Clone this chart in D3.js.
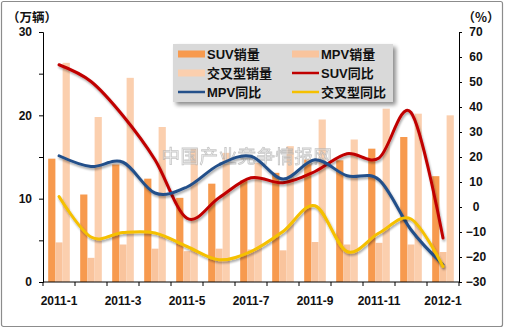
<!DOCTYPE html>
<html>
<head>
<meta charset="utf-8">
<script src="https://cdn.jsdelivr.net/npm/d3@7"></script>
<style>
  html, body { margin: 0; padding: 0; background: #fff; }
  svg { display: block; }
  text { font-family: "Liberation Sans", Arial, "Noto Sans CJK SC", sans-serif; font-weight: bold; fill: #111; }
</style>
</head>
<body>
<svg id="chart" width="505" height="329"></svg>
<script>
// Monthly sales (万辆) and year-on-year growth (%) by vehicle type
const months = ["2011-1","2011-2","2011-3","2011-4","2011-5","2011-6","2011-7",
                "2011-8","2011-9","2011-10","2011-11","2011-12","2012-1"];
const suvSales   = [14.8, 10.5, 14.1, 12.4, 10.1, 11.8, 12.2, 13.1, 14.7, 14.6, 16.0, 17.4, 12.7];
const mpvSales   = [4.75, 2.9, 4.5, 4.0, 3.7, 4.0, 3.9, 3.8, 4.8, 4.5, 4.7, 4.5, 3.6];
const crossSales = [26.3, 19.8, 24.5, 18.6, 16.0, 15.5, 14.3, 16.3, 19.5, 17.1, 20.8, 20.2, 20.0];
const suvYoY   = [56.9, 50.2, 36.5, 18.9, -4.5, 3.7, 11.7, 9.7, 14.2, 21.3, 19.6, 37.8, -12.4];
const mpvYoY   = [20.5, 16.2, 17.9, 5.6, 8.0, 16.9, 20.3, 11.2, 18.9, 12.5, 10.9, -9.1, -23.1];
const crossYoY = [4.2, -12.0, -10.2, -10.4, -15.8, -21.1, -17.8, -9.8, 0.5, -17.8, -10.4, -4.8, -23.8];
const leftTicks  = [0, 10, 20, 30];
const rightTicks = [-30, -20, -10, 0, 10, 20, 30, 40, 50, 60, 70];
const xLabelMonths = ["2011-1","2011-3","2011-5","2011-7","2011-9","2011-11","2012-1"];

const barSeries = [
  { name: "SUV销量",   values: suvSales,   color: "#F79A4E" },
  { name: "MPV销量",   values: mpvSales,   color: "#F9C49D" },
  { name: "交叉型销量", values: crossSales, color: "#FBCFAE" }
];
const lineSeries = [
  { name: "SUV同比",   values: suvYoY,   color: "#C00000" },
  { name: "MPV同比",   values: mpvYoY,   color: "#24508A" },
  { name: "交叉型同比", values: crossYoY, color: "#F5C000" }
];

const svg = d3.select("#chart");
const plot = { left: 43, right: 459, top: 32, bottom: 282 };

// outer frame
svg.append("rect")
  .attr("x", 1.5).attr("y", 1.5).attr("width", 501).attr("height", 325)
  .attr("fill", "#fff").attr("stroke", "#8c8c8c").attr("stroke-width", 1.2).attr("rx", 2);

const defs = svg.append("defs");
const shadow = defs.append("filter").attr("id", "lineShadow")
  .attr("x", "-10%").attr("y", "-10%").attr("width", "120%").attr("height", "130%");
shadow.append("feGaussianBlur").attr("in", "SourceAlpha").attr("stdDeviation", 1.3).attr("result", "b");
shadow.append("feOffset").attr("in", "b").attr("dx", 1).attr("dy", 2).attr("result", "o");
shadow.append("feComponentTransfer").attr("in", "o").attr("result", "s")
  .append("feFuncA").attr("type", "linear").attr("slope", 0.35);
const m1 = shadow.append("feMerge");
m1.append("feMergeNode").attr("in", "s");
m1.append("feMergeNode").attr("in", "SourceGraphic");

const boxShadow = defs.append("filter").attr("id", "boxShadow")
  .attr("x", "-10%").attr("y", "-20%").attr("width", "125%").attr("height", "150%");
boxShadow.append("feGaussianBlur").attr("in", "SourceAlpha").attr("stdDeviation", 2).attr("result", "b");
boxShadow.append("feOffset").attr("in", "b").attr("dx", 3).attr("dy", 3).attr("result", "o");
boxShadow.append("feComponentTransfer").attr("in", "o").attr("result", "s")
  .append("feFuncA").attr("type", "linear").attr("slope", 0.45);
const m2 = boxShadow.append("feMerge");
m2.append("feMergeNode").attr("in", "s");
m2.append("feMergeNode").attr("in", "SourceGraphic");

// scales
const x = d3.scaleBand().domain(months).range([plot.left, plot.right]).padding(0);
const xs = d3.scaleBand().domain(barSeries.map(d => d.name))
  .range([0, x.bandwidth()]).paddingInner(0).paddingOuter(0.72);
const yL = d3.scaleLinear().domain([0, 30]).range([plot.bottom, plot.top]);
const yR = d3.scaleLinear().domain([-30, 70]).range([plot.bottom, plot.top]);

// bars
barSeries.forEach(s => {
  svg.append("g").selectAll("rect").data(s.values).join("rect")
    .attr("x", (d, i) => x(months[i]) + xs(s.name))
    .attr("y", d => yL(d))
    .attr("width", xs.bandwidth())
    .attr("height", d => yL(0) - yL(d))
    .attr("fill", s.color);
});

// watermark
svg.append("text")
  .attr("x", 247).attr("y", 163).attr("text-anchor", "middle")
  .style("font-family", "'Noto Sans CJK SC', sans-serif").style("font-weight", "normal")
  .style("font-size", "18.5px").style("letter-spacing", "0.5px")
  .style("fill", "#f4f4f4").style("stroke", "#b0b0b0").style("stroke-width", 0.8)
  .style("opacity", 0.7)
  .text("中国产业竞争情报网");

// lines
const line = d3.line()
  .x((d, i) => x(months[i]) + x.bandwidth() / 2)
  .y(d => yR(d))
  .curve(d3.curveCardinal.tension(0));
lineSeries.forEach(s => {
  svg.append("path").datum(s.values)
    .attr("d", line).attr("fill", "none")
    .attr("stroke", s.color).attr("stroke-width", 3)
    .attr("stroke-linecap", "round").attr("stroke-linejoin", "round")
    .attr("filter", "url(#lineShadow)");
});

// left axis
const leftAxis = d3.axisLeft(yL).tickValues(d3.range(0, 31, 5)).tickSize(4)
  .tickFormat(d => leftTicks.includes(d) ? d : "");
const gL = svg.append("g").attr("transform", `translate(${plot.left},0)`).call(leftAxis);
gL.select(".domain").attr("stroke", "#000").attr("stroke-width", 1);
gL.selectAll(".tick line").attr("stroke", "#000");
gL.selectAll(".tick text").attr("x", -11).style("font-size", "12px").style("font-weight", "bold")
  .style("font-family", "'Liberation Sans', Arial, sans-serif");

// right axis
const rightAxis = d3.axisRight(yR).tickValues(rightTicks).tickSize(3);
const gR = svg.append("g").attr("transform", `translate(${plot.right},0)`).call(rightAxis);
gR.select(".domain").attr("stroke", "#000").attr("stroke-width", 1);
gR.selectAll(".tick line").attr("stroke", "#000");
gR.selectAll(".tick text").attr("x", 17).attr("text-anchor", "middle")
  .style("font-size", "12px").style("font-weight", "bold")
  .style("font-family", "'Liberation Sans', Arial, sans-serif");

// bottom axis: ticks at month boundaries, labels every other month
const gB = svg.append("g").attr("transform", `translate(0,${plot.bottom})`);
gB.append("line").attr("x1", plot.left).attr("x2", plot.right)
  .attr("stroke", "#000").attr("stroke-width", 1);
gB.selectAll("line.tk").data(d3.range(months.length + 1)).join("line")
  .attr("class", "tk")
  .attr("x1", i => plot.left + i * x.step()).attr("x2", i => plot.left + i * x.step())
  .attr("y1", 0).attr("y2", 4).attr("stroke", "#000");
gB.selectAll("text").data(xLabelMonths).join("text")
  .attr("x", d => x(d) + x.bandwidth() / 2).attr("y", 23)
  .attr("text-anchor", "middle")
  .style("font-size", "12px")
  .text(d => d);

// unit labels
svg.append("text").attr("x", 7).attr("y", 22).style("font-size", "12.5px")
  .style("font-family", "'Noto Sans CJK SC', sans-serif").text("（万辆）");
svg.append("text").attr("x", 481).attr("y", 22).attr("text-anchor", "middle").style("font-size", "12.5px")
  .style("font-family", "'Noto Sans CJK SC', sans-serif").text("（%）");

// legend
const lg = svg.append("g");
lg.append("rect").attr("x", 173).attr("y", 44).attr("width", 220).attr("height", 58)
  .attr("fill", "#d9d9d9").attr("filter", "url(#boxShadow)");
const legendItems = [
  { s: barSeries[0], type: "bar", col: 0, row: 0 },
  { s: barSeries[1], type: "bar", col: 1, row: 0 },
  { s: barSeries[2], type: "bar", col: 0, row: 1 },
  { s: lineSeries[0], type: "line", col: 1, row: 1 },
  { s: lineSeries[1], type: "line", col: 0, row: 2 },
  { s: lineSeries[2], type: "line", col: 1, row: 2 }
];
const colX = [178, 292];
const rowY = [54, 73, 92];
legendItems.forEach(it => {
  const gx = colX[it.col], gy = rowY[it.row];
  if (it.type === "bar") {
    lg.append("rect").attr("x", gx).attr("y", gy - 3.5).attr("width", 27).attr("height", 7)
      .attr("fill", it.s.color);
  } else {
    lg.append("line").attr("x1", gx).attr("x2", gx + 27).attr("y1", gy).attr("y2", gy)
      .attr("stroke", it.s.color).attr("stroke-width", 2.5);
  }
  lg.append("text").attr("x", gx + 29).attr("y", gy + 5)
    .style("font-size", "13px")
    .style("font-family", "'Liberation Sans', 'Noto Sans CJK SC', sans-serif")
    .text(it.s.name);
});
</script>
</body>
</html>
